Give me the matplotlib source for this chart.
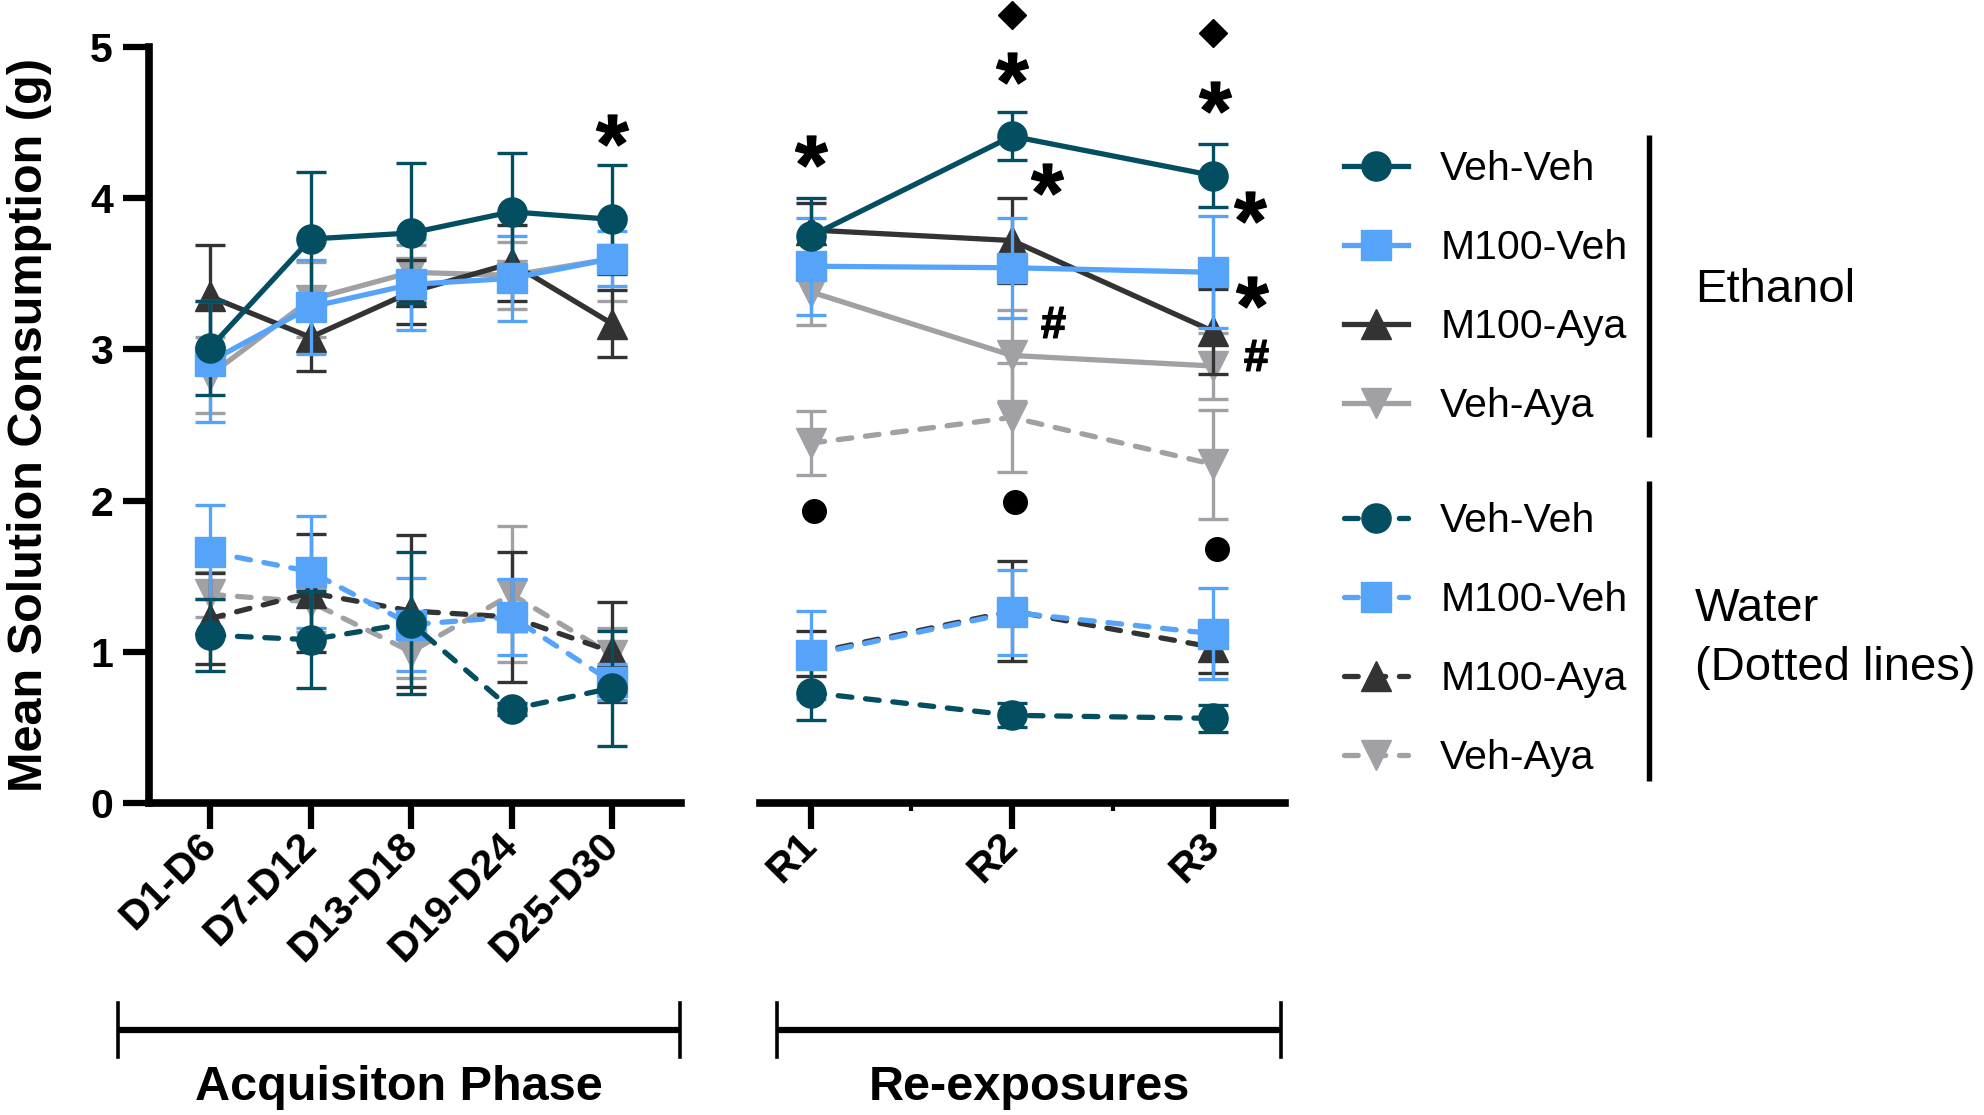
import matplotlib
matplotlib.use('Agg')
import matplotlib.pyplot as plt
from matplotlib.lines import Line2D
from matplotlib.path import Path
from matplotlib.textpath import TextPath
from matplotlib.font_manager import FontProperties

plt.rcParams['font.family'] = ['Liberation Sans', 'DejaVu Sans']

# --- data ---
groups = ['Veh-Veh', 'M100-Veh', 'M100-Aya', 'Veh-Aya']
acq_labels = ['D1-D6', 'D7-D12', 'D13-D18', 'D19-D24', 'D25-D30']
re_labels = ['R1', 'R2', 'R3']

# rows follow the order of `groups`
eth_acq = [[3.01, 3.73, 3.77, 3.91, 3.86],
           [2.92, 3.28, 3.43, 3.47, 3.60],
           [3.35, 3.08, 3.38, 3.57, 3.17],
           [2.83, 3.33, 3.51, 3.49, 3.60]]
eth_acq_sem = [[0.31, 0.44, 0.46, 0.39, 0.36],
               [0.40, 0.31, 0.30, 0.28, 0.18],
               [0.34, 0.22, 0.21, 0.25, 0.22],
               [0.25, 0.25, 0.18, 0.22, 0.28]]
wat_acq = [[1.11, 1.08, 1.19, 0.62, 0.76],
           [1.66, 1.53, 1.18, 1.23, 0.80],
           [1.22, 1.39, 1.27, 1.23, 1.00],
           [1.38, 1.33, 1.00, 1.38, 0.98]]
wat_acq_sem = [[0.24, 0.32, 0.47, 0.04, 0.38],
               [0.31, 0.37, 0.31, 0.25, 0.12],
               [0.30, 0.39, 0.50, 0.43, 0.33],
               [0.15, 0.20, 0.17, 0.45, 0.18]]

eth_re = [[3.75, 4.41, 4.15],
          [3.55, 3.54, 3.51],
          [3.79, 3.72, 3.12],
          [3.38, 2.96, 2.89]]
eth_re_sem = [[0.25, 0.16, 0.21],
              [0.32, 0.33, 0.37],
              [0.18, 0.28, 0.28],
              [0.22, 0.30, 0.22]]
wat_re = [[0.73, 0.58, 0.56],
          [0.98, 1.26, 1.12],
          [0.99, 1.27, 1.03],
          [2.38, 2.55, 2.24]]
wat_re_sem = [[0.18, 0.08, 0.09],
              [0.29, 0.28, 0.30],
              [0.15, 0.33, 0.17],
              [0.21, 0.36, 0.36]]

# significance marks: (x, y, symbol)
acq_marks = [(4, 4.45, '*')]
re_marks = [(0, 4.31, '*'), (2, 5.21, 'D'), (2, 4.86, '*'), (2.35, 4.13, '*'),
            (2.41, 3.18, '#'), (4, 5.09, 'D'), (4.02, 4.67, '*'), (4.37, 3.94, '*'),
            (4.39, 3.38, '*'), (4.43, 2.96, '#'),
            (0.03, 1.93, 'o'), (2.03, 1.99, 'o'), (4.04, 1.68, 'o')]

colors = ['#034E60', '#56A4FA', '#333333', '#A1A1A5']
markers = ['o', 's', '^', 'v']
DASH = (2.6, 2.6)


def sym_path(ch):
    tp = TextPath((0, 0), ch, size=10,
                  prop=FontProperties(family='Liberation Sans', weight='bold'))
    v = tp.vertices.copy()
    codes = tp.codes
    ok = codes != Path.CLOSEPOLY
    c = (v[ok].min(0) + v[ok].max(0)) / 2
    v = v - c
    v[~ok] = 0
    return Path(v, codes)


AST = sym_path('*')
HASH = sym_path('#')

fig = plt.figure(figsize=(19.84, 11.15), dpi=100)
W, H = 1984, 1115
axL = fig.add_axes([149 / W, 1 - 803 / H, 532 / W, 756 / H])
axR = fig.add_axes([760 / W, 1 - 803 / H, 525 / W, 756 / H])


def draw(ax, xs, eth, eth_s, wat, wat_s):
    for i in [3, 2, 1, 0]:
        for vals, sems, ls in [(wat, wat_s, '--'), (eth, eth_s, '-')]:
            line, caps, bars = ax.errorbar(
                xs, vals[i], yerr=sems[i], color=colors[i], marker=markers[i],
                ms=21, lw=3.8, ls=ls, elinewidth=2.4, capsize=10.5, capthick=2.4,
                clip_on=False, zorder=3 + (3 - i) * 0.1)
            if ls == '--':
                line.set_dashes(DASH)
                line.set_dash_capstyle('round')


def marks(ax, items):
    for x, y, s in items:
        if s == '*':
            ax.plot(x, y, marker=AST, ms=23, color='black', ls='none', clip_on=False, zorder=6)
        elif s == '#':
            ax.plot(x, y, marker=HASH, ms=22, color='black', ls='none', clip_on=False, zorder=6)
        elif s == 'D':
            ax.plot(x, y, marker='D', ms=14, color='black', ls='none', clip_on=False, zorder=6)
        else:
            ax.plot(x, y, marker='o', ms=17, color='black', ls='none', clip_on=False, zorder=6)


acq_x = list(range(len(acq_labels)))
re_x = [2 * i for i in range(len(re_labels))]
draw(axL, acq_x, eth_acq, eth_acq_sem, wat_acq, wat_acq_sem)
draw(axR, re_x, eth_re, eth_re_sem, wat_re, wat_re_sem)
marks(axL, acq_marks)
marks(axR, re_marks)

for ax in (axL, axR):
    ax.set_ylim(0, 5)
    for s in ('top', 'right'):
        ax.spines[s].set_visible(False)
    for s in ax.spines.values():
        s.set_linewidth(5.5)
    ax.tick_params(axis='both', which='major', length=19, width=4.5, labelsize=29.5, pad=7)
    for lab in ax.get_xticklabels() + ax.get_yticklabels():
        lab.set_fontweight('bold')

axL.set_xlim(-0.607, 4.686)
axL.set_xticks(acq_x)
axL.set_xticklabels(acq_labels, fontweight='bold', rotation=45, ha='right',
                    va='center', rotation_mode='anchor')
axL.set_yticks([0, 1, 2, 3, 4, 5])
axL.set_yticklabels(['0', '1', '2', '3', '4', '5'], fontweight='bold')
axL.set_ylabel('Mean Solution Consumption (g)', fontsize=35, fontweight='bold')
axL.yaxis.set_label_coords(-0.182, 0.5)

axR.set_xlim(-0.507, 4.716)
axR.set_xticks(re_x)
axR.set_xticks([1, 3], minor=True)
axR.tick_params(axis='x', which='minor', length=6, width=3)
axR.set_xticklabels(re_labels, fontweight='bold', rotation=45, ha='right',
                    va='center', rotation_mode='anchor')
axR.spines['left'].set_visible(False)
axR.set_yticks([])

# overlay in pixel coordinates for brackets / legend annotations
ov = fig.add_axes([0, 0, 1, 1], zorder=-1)
ov.set_xlim(0, W)
ov.set_ylim(H, 0)
ov.axis('off')

for x0, x1, txt in [(118, 680, 'Acquisiton Phase'), (777, 1281, 'Re-exposures')]:
    ov.plot([x0, x1], [1030, 1030], color='black', lw=4.5, solid_capstyle='butt')
    for xe in (x0, x1):
        ov.plot([xe, xe], [1003, 1057], color='black', lw=2.6)
    ov.text((x0 + x1) / 2, 1087, txt, ha='center', va='center', fontsize=35, fontweight='bold')

# legends
eth_handles = [Line2D([], [], color=c, marker=m, ms=21, lw=3.8) for c, m in zip(colors, markers)]
wat_handles = []
for c, m in zip(colors, markers):
    h = Line2D([], [], color=c, marker=m, ms=21, lw=3.8, ls='--')
    h.set_dashes(DASH)
    h.set_dash_capstyle('round')
    wat_handles.append(h)

for hs, top in [(eth_handles, 150), (wat_handles, 502)]:
    fig.legend(hs, groups, loc='upper left', bbox_to_anchor=(1344 / W, 1 - top / H),
               frameon=False, fontsize=29.5, handlelength=1.55, handletextpad=0.8,
               labelspacing=1.0, borderpad=0, borderaxespad=0)

ov.plot([1649, 1649], [135, 437], color='black', lw=3.9, solid_capstyle='butt')
ov.plot([1649, 1649], [481, 781], color='black', lw=3.9, solid_capstyle='butt')
ov.text(1695, 302, 'Ethanol', fontsize=34, va='baseline', ha='left')
ov.text(1695, 621, 'Water', fontsize=34, va='baseline', ha='left')
ov.text(1695, 680, '(Dotted lines)', fontsize=34, va='baseline', ha='left')

fig.savefig('out.png', dpi=100)
